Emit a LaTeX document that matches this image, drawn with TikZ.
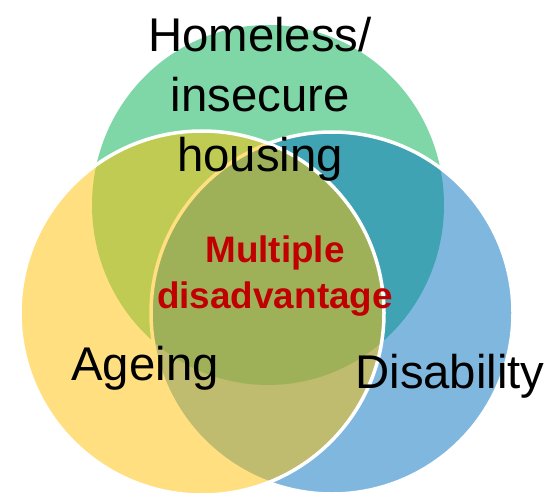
\documentclass[tikz,border=0pt]{standalone}
\usepackage{fontspec}
\setmainfont{Liberation Sans}
\definecolor{cgreen}{HTML}{00B050}
\definecolor{cblue}{HTML}{0070C0}
\definecolor{cyellow}{HTML}{FFC000}
\definecolor{cred}{HTML}{C00000}
\begin{document}
\begin{tikzpicture}[x=1bp,y=-1bp,
  setcircle/.style={draw=white, line width=3.5bp, fill=#1, fill opacity=0.5},
  biglabel/.style={font=\fontsize{47.5}{60}\selectfont, text=black, align=center, inner sep=0pt},
  midlabel/.style={font=\fontsize{37}{45.5}\selectfont\bfseries, text=cred, align=center, inner sep=0pt}]
\useasboundingbox (0,0) rectangle (546,494);
\fill[cgreen, fill opacity=0.5] (268,205) ellipse [x radius=176, y radius=180];
\draw[setcircle=cblue] (332,313) circle [radius=181];
\draw[setcircle=cyellow] (202,313) circle [radius=182];
\node[biglabel, anchor=base] (home) at (260,171.5) {Homeless/\\insecure\\housing};
\node[midlabel, anchor=base] (multi) at (275,308) {Multiple\\disadvantage};
\node[biglabel, anchor=base] (age) at (145,380) {Ageing};
\node[biglabel, anchor=base] (dis) at (450,388.5) {Disability};
\end{tikzpicture}
\end{document}
